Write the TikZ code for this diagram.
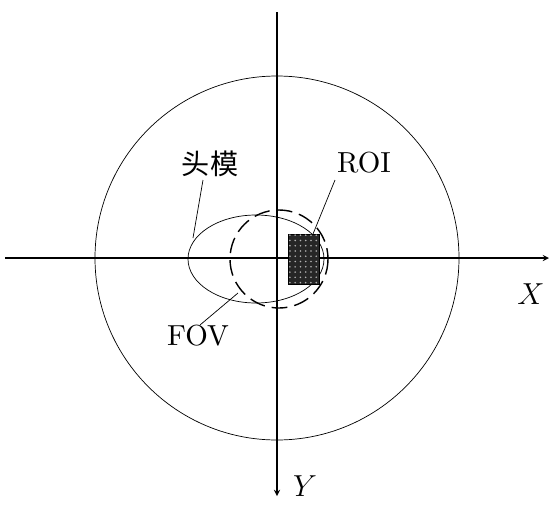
\documentclass[tikz,border=0pt]{standalone}
\usepackage{fontspec}
\setmainfont{lmroman10}[Extension=.otf, UprightFont=*-regular,
  ItalicFont=*-italic, BoldFont=*-bold]
\newfontfamily\cjk{Noto Sans CJK SC}
\usetikzlibrary{positioning, patterns}

\begin{document}
\begin{tikzpicture}[
    x=0.02cm, y=-0.02cm,
    lbl/.style={font=\fontsize{16.5}{18}\selectfont, inner sep=1pt},
    lead/.style={thin},
    >=stealth
]
  \useasboundingbox (0,0) rectangle (558,504);

  % --- AXES ---
  \coordinate (o) at (277,258);
  \coordinate (xl) at (5,258);
  \coordinate (xr) at (549,258);
  \coordinate (yt) at (277,12);
  \coordinate (yb) at (277,496);
  \draw[->, semithick] (xl) -- (xr);
  \draw[->, semithick] (yt) -- (yb);
  \node[lbl] (x) at (531,294) {$X$};
  \node[lbl] (y) at (305,486) {$Y$};

  % --- BIG CIRCLE ---
  \draw[thin] (o) circle[radius=182];

  % --- HEAD MODEL, FOV, ROI ---
  \coordinate (hc) at (256,259);
  \draw (hc) ellipse[x radius=68, y radius=44];
  \draw[thick, dash pattern=on 9pt off 4pt] (279,259) circle[radius=49];
  \node[draw, fill=black!85, minimum width=31*0.02cm, minimum height=50*0.02cm,
        inner sep=0pt] (roi) at (303.5,259) {};
  \fill[pattern=dots, pattern color=white!70!black] (roi.south west) rectangle (roi.north east);

  % --- LABELS ---
  \node[lbl, font=\cjk\fontsize{16}{18}\selectfont] (head) at (210,164) {头模};
  \node[lbl] (roil) at (364,163) {ROI};
  \node[lbl] (fov) at (198,336) {FOV};

  \coordinate (heads) at (203,180);
  \coordinate (headpt) at (193,238);
  \coordinate (rois) at (335,180);
  \coordinate (roipt) at (313,234);
  \coordinate (fovs) at (200,325);
  \coordinate (fovpt) at (238,293);
  \draw[lead] (heads) -- (headpt);
  \draw[lead] (rois) -- (roipt);
  \draw[lead] (fovs) -- (fovpt);
\end{tikzpicture}
\end{document}
